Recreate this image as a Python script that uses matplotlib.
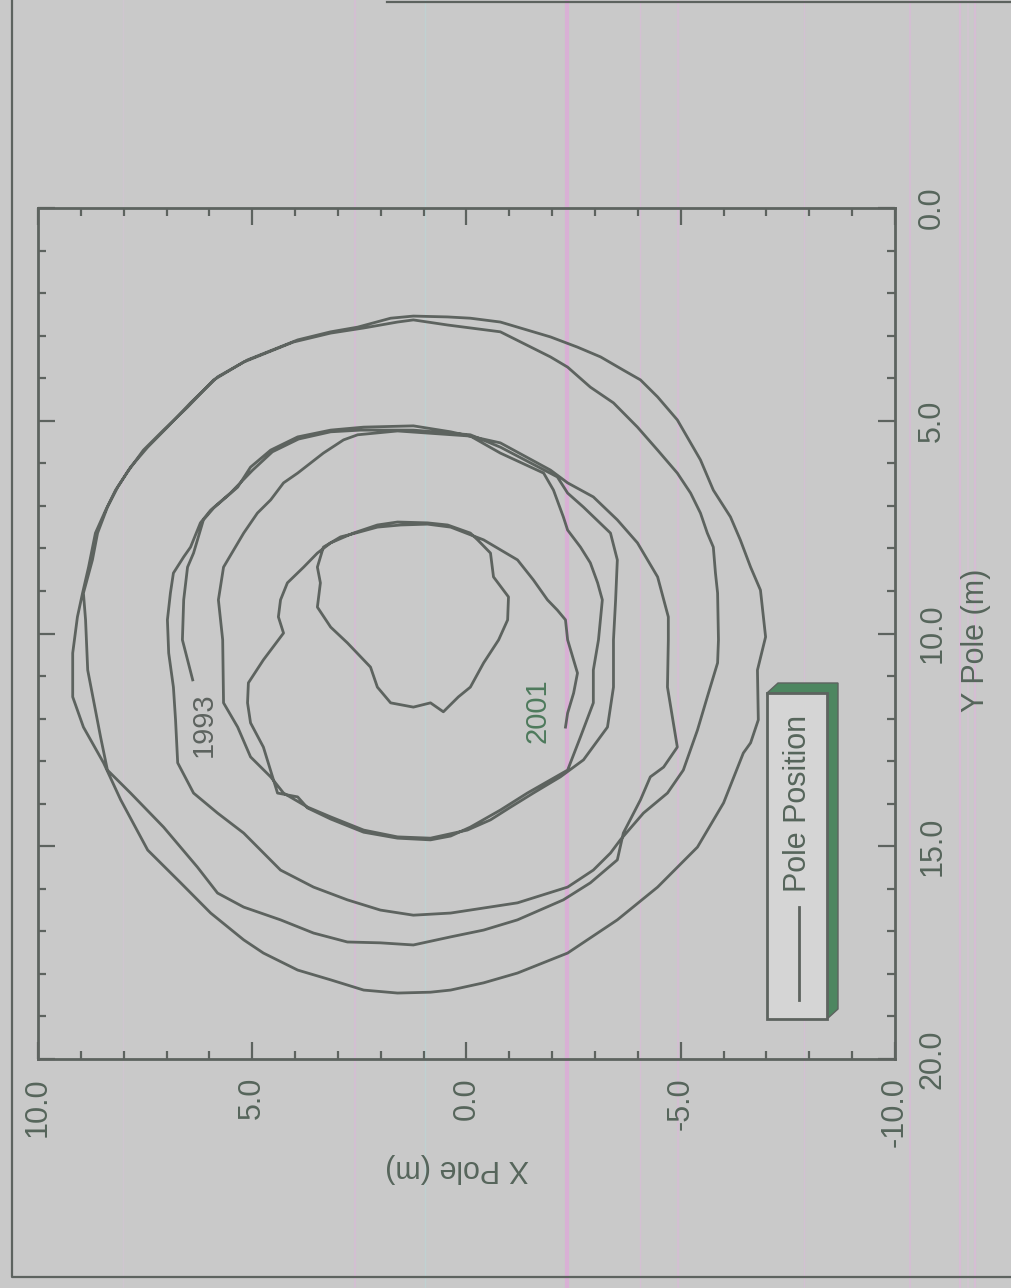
import matplotlib
matplotlib.use('Agg')
import matplotlib.pyplot as plt
from matplotlib.lines import Line2D
from matplotlib.patches import Rectangle, Polygon
from matplotlib.ticker import MultipleLocator, FormatStrFormatter

plt.rcParams['font.family'] = ['Liberation Sans', 'DejaVu Sans']
plt.rcParams['axes.unicode_minus'] = False

# pole path 1993 -> 2001 (metres)
x_pole = [
    6.39, 6.51, 6.63, 6.60, 6.51, 6.37, 6.14, 5.90, 5.34, 5.04,
    4.57, 3.94, 3.17, 2.40, 1.24, 0.37, -0.79, -1.96, -2.36, -2.96,
    -3.52, -3.99, -4.46, -4.71, -4.71, -4.69, -4.92, -4.60, -4.29, -4.06,
    -3.66, -3.52, -2.89, -2.26, -1.19, -0.40, 0.37, 1.24, 2.01, 2.78,
    3.57, 4.34, 5.20, 5.81, 6.28, 7.07, 7.84, 8.38, 8.54, 8.84,
    8.89, 8.94, 8.73, 8.61, 8.38, 8.14, 7.84, 7.44, 6.98, 6.44,
    5.81, 5.11, 3.94, 3.17, 2.54, 1.77, 1.24, 0.44, -0.09, -0.79,
    -1.96, -2.59, -3.13, -3.66, -4.06, -4.46, -4.92, -5.23, -5.46, -5.76,
    -6.16, -6.39, -6.63, -6.86, -6.93, -6.98, -6.79, -6.81, -6.63, -6.46,
    -6.00, -5.39, -4.46, -3.52, -2.36, -1.19, -0.40, 0.37, 0.84, 1.61,
    2.40, 3.17, 3.94, 4.74, 5.20, 5.97, 6.67, 7.44, 8.07, 8.47,
    8.94, 9.19, 9.19, 9.12, 9.08, 8.96, 8.82, 8.66, 8.42, 8.19,
    7.91, 7.54, 7.07, 6.51, 5.90, 5.20, 4.04, 3.17, 2.40, 1.61,
    1.24, 0.44, -0.09, -0.79, -1.96, -2.36, -2.89, -3.43, -3.99, -4.46,
    -4.92, -5.23, -5.46, -5.62, -5.76, -5.81, -5.86, -5.88, -5.86, -5.62,
    -5.39, -5.06, -4.69, -4.13, -3.59, -3.36, -2.96, -2.36, -1.19, 0.37,
    1.24, 2.01, 2.78, 3.57, 4.34, 5.20, 5.81, 6.37, 6.74, 6.79,
    6.84, 6.95, 6.98, 6.91, 6.84, 6.60, 6.44, 6.21, 5.97, 5.51,
    4.99, 4.53, 3.92, 3.17, 2.47, 1.24, -0.09, -0.79, -2.12, -2.36,
    -2.73, -3.36, -3.52, -3.48, -3.43, -3.43, -3.29, -2.73, -2.19, -1.56,
    -1.03, -0.56, -0.02, 0.84, 1.61, 2.40, 3.17, 3.71, 4.27, 4.57,
    5.04, 5.34, 5.67, 5.69, 5.79, 5.67, 5.20, 4.88, 4.57, 4.27,
    3.94, 3.34, 2.87, 2.54, 1.61, -0.09, -0.79, -1.80, -2.03, -2.26,
    -2.36, -2.66, -2.89, -3.06, -3.17, -3.08, -2.96, -2.96, -2.66, -2.36,
    -1.42, -0.79, -0.09, 0.37, 0.84, 1.61, 2.40, 3.17, 3.71, 3.94,
    4.41, 4.74, 5.04, 5.11, 5.09, 4.74, 4.27, 4.39, 4.34, 4.18,
    3.80, 3.48, 3.17, 2.64, 2.08, 1.61, 0.91, 0.44, -0.09, -0.26,
    -0.56, -0.63, -0.98, -0.96, -0.75, -0.40, -0.09, 0.19, 0.54, 0.84,
    1.24, 1.77, 2.08, 2.24, 2.40, 2.78, 3.17, 3.48, 3.41, 3.48,
    3.34, 2.94, 2.59, 2.08, 1.54, 0.91, 0.37, -0.40, -1.19, -1.56,
    -1.89, -2.12, -2.31, -2.36, -2.50, -2.59, -2.50, -2.36, -2.31,
]
y_pole = [
    11.09, 10.62, 10.15, 9.21, 8.44, 8.11, 7.33, 7.05, 6.56, 6.09,
    5.69, 5.38, 5.22, 5.15, 5.12, 5.26, 5.52, 6.16, 6.46, 6.79,
    7.33, 7.87, 8.67, 9.61, 10.15, 11.26, 12.67, 13.14, 13.37, 13.91,
    14.69, 15.32, 15.86, 16.26, 16.73, 16.97, 17.13, 17.32, 17.27, 17.25,
    17.04, 16.73, 16.43, 16.10, 15.49, 14.55, 13.75, 13.21, 12.43, 10.86,
    9.68, 9.05, 8.27, 7.64, 7.03, 6.56, 6.09, 5.62, 5.15, 4.58,
    3.97, 3.57, 3.10, 2.91, 2.80, 2.59, 2.54, 2.56, 2.59, 2.68,
    3.03, 3.27, 3.50, 3.81, 4.04, 4.44, 4.98, 5.52, 5.92, 6.63,
    7.26, 7.80, 8.44, 8.98, 9.61, 10.08, 10.86, 12.03, 12.57, 12.81,
    13.98, 15.02, 15.96, 16.73, 17.51, 17.98, 18.21, 18.38, 18.43, 18.45,
    18.38, 18.14, 17.91, 17.51, 17.20, 16.57, 15.86, 15.09, 13.91, 13.04,
    12.20, 11.49, 10.46, 9.92, 9.61, 9.05, 8.44, 7.64, 7.10, 6.63,
    6.20, 5.69, 5.22, 4.68, 4.04, 3.62, 3.15, 2.94, 2.82, 2.68,
    2.63, 2.75, 2.82, 2.91, 3.50, 3.74, 4.21, 4.58, 5.15, 5.69,
    6.23, 6.70, 7.17, 7.64, 7.97, 8.58, 9.05, 10.15, 10.69, 11.49,
    12.27, 13.21, 13.75, 14.22, 14.85, 15.16, 15.56, 15.96, 16.33, 16.57,
    16.62, 16.50, 16.26, 15.96, 15.56, 14.69, 14.22, 13.75, 13.04, 12.03,
    11.26, 10.46, 9.68, 9.05, 8.58, 8.20, 7.97, 7.40, 7.10, 6.70,
    6.16, 5.73, 5.43, 5.26, 5.22, 5.22, 5.33, 5.62, 6.32, 6.70,
    7.03, 7.64, 8.27, 9.21, 10.15, 11.26, 12.20, 12.97, 13.37, 13.75,
    14.08, 14.38, 14.62, 14.81, 14.78, 14.62, 14.31, 14.08, 13.75, 13.37,
    12.90, 12.20, 11.63, 10.15, 9.21, 8.44, 7.64, 7.17, 6.86, 6.46,
    6.23, 5.76, 5.45, 5.33, 5.24, 5.36, 5.76, 6.23, 6.63, 7.26,
    7.57, 7.97, 8.34, 8.81, 9.21, 10.15, 10.86, 11.63, 12.43, 13.21,
    13.75, 14.15, 14.55, 14.76, 14.85, 14.81, 14.67, 14.36, 14.10, 13.84,
    13.75, 12.67, 12.10, 11.63, 11.16, 10.62, 9.99, 9.61, 9.21, 8.81,
    8.44, 8.11, 7.87, 7.64, 7.45, 7.38, 7.40, 7.45, 7.64, 7.80,
    8.11, 8.67, 9.14, 9.68, 10.15, 10.69, 11.26, 11.49, 11.84, 11.63,
    11.73, 11.63, 11.26, 10.79, 10.62, 10.22, 9.85, 9.38, 8.81, 8.44,
    7.97, 7.73, 7.64, 7.50, 7.45, 7.43, 7.50, 7.80, 8.27, 8.74,
    9.21, 9.45, 9.68, 10.15, 10.62, 10.93, 11.40, 11.87, 12.20,
]

x_ticks = [10.0, 5.0, 0.0, -5.0, -10.0]
y_ticks = [0.0, 5.0, 10.0, 15.0, 20.0]
x_label = 'X Pole (m)'
y_label = 'Y Pole (m)'
series_name = 'Pole Position'
year_labels = ['1993', '2001']
year_pos = [(6.14, 12.15), (-1.66, 11.82)]

BG = '#c9c9c9'
INK = '#5d635f'
TXT = '#56655b'

W, H = 1012, 1288
fig = plt.figure(figsize=(W / 100, H / 100), dpi=100, facecolor=BG)


def fx(px):
    return px / W


def fy(py):
    return 1 - py / H


# scanner stripes (the reference is a scan)
stripes = [(123, '#cfc6cf', 1.0), (355, '#d6bcd4', 1.2), (425, '#bfd2d2', 1.0),
           (567, '#d9b0d5', 3.0), (640, '#d4bfd3', 1.0), (678, '#d6bdd4', 1.2),
           (804, '#d3c0d2', 1.0), (910, '#d6bcd4', 1.2), (960, '#d6bcd4', 1.5),
           (968, '#d3c3d2', 1.2), (975, '#d6bcd4', 1.5)]
for sx, sc, sw in stripes:
    fig.add_artist(Line2D([fx(sx), fx(sx)], [0, 1], transform=fig.transFigure,
                          color=sc, lw=sw, zorder=-5))

# outer border of the scanned sheet
fig.add_artist(Line2D([fx(12), fx(12), 1], [1, fy(1277), fy(1277)],
                      transform=fig.transFigure, color=INK, lw=1.6, zorder=-4))
fig.add_artist(Line2D([fx(387), 1], [fy(1.5), fy(1.5)],
                      transform=fig.transFigure, color=INK, lw=1.6, zorder=-4))

ax = fig.add_axes([fx(38), fy(1059), 857 / W, 851 / H])
ax.set_facecolor('none')
ax.plot(x_pole, y_pole, color=INK, lw=2.0, solid_joinstyle='round')

ax.set_xlim(10, -10)
ax.set_ylim(20, 0)
ax.set_xticks(x_ticks)
ax.set_yticks(y_ticks)
ax.xaxis.set_minor_locator(MultipleLocator(1))
ax.yaxis.set_minor_locator(MultipleLocator(1))
ax.xaxis.set_major_formatter(FormatStrFormatter('%.1f'))
ax.yaxis.set_major_formatter(FormatStrFormatter('%.1f'))

for s in ax.spines.values():
    s.set_linewidth(2.0)
    s.set_color(INK)

ax.tick_params(which='both', direction='in', color=INK, width=1.6,
               top=True, bottom=True, left=True, right=True,
               labelleft=False, labelright=True, labelcolor=TXT, labelsize=22)
ax.tick_params(which='major', length=12)
ax.tick_params(which='minor', length=6)
ax.tick_params(axis='x', labelrotation=90, pad=13)
ax.tick_params(axis='y', labelrotation=90, pad=16)
for t in ax.get_yticklabels():
    t.set_va('center')

ax.set_xlabel(x_label, rotation=180, fontsize=22, color=TXT, va='center')
ax.xaxis.set_label_coords((457 - 38) / 857, -(1168 - 1059) / 851)
ax.yaxis.set_label_position('right')
ax.set_ylabel(y_label, rotation=90, fontsize=22, color=TXT, va='center')
ax.yaxis.set_label_coords((976 - 38) / 857, (1059 - 640) / 851)

ax.text(year_pos[0][0], year_pos[0][1], year_labels[0], rotation=90,
        ha='center', va='center', fontsize=21, color=INK)
ax.text(year_pos[1][0], year_pos[1][1], year_labels[1], rotation=90,
        ha='center', va='center', fontsize=21, color='#4e7a5c')

# legend box, extruded green edge on top and right
shadow = [(fx(767), fy(693)), (fx(778), fy(683)), (fx(838), fy(683)),
          (fx(838), fy(1009)), (fx(827), fy(1019))]
fig.add_artist(Polygon(shadow, closed=True, transform=fig.transFigure,
                       facecolor='#4d8660', edgecolor='#5d635f', lw=1.0, zorder=3))
fig.add_artist(Rectangle((fx(767), fy(1019)), 60 / W, 326 / H,
                         transform=fig.transFigure, facecolor='#d5d5d5',
                         edgecolor=INK, lw=2.0, zorder=4))
fig.add_artist(Line2D([fx(799), fx(799)], [fy(1000), fy(907)],
                      transform=fig.transFigure, color=INK, lw=2.0, zorder=5))
fig.text(fx(798), fy(803), series_name, rotation=90, ha='center',
         va='center', fontsize=22, color=TXT, zorder=5)

fig.savefig('out.png', dpi=100, facecolor=BG)
